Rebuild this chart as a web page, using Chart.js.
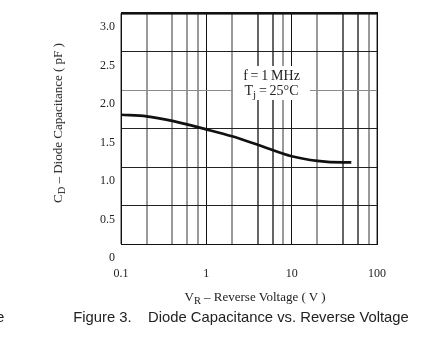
<!DOCTYPE html>
<html>
<head>
<meta charset="utf-8">
<script src="https://cdn.jsdelivr.net/npm/chart.js@4.4.1/dist/chart.umd.min.js"></script>
<style>
  html, body { margin: 0; padding: 0; background: #fff; }
  #wrap { position: relative; width: 446px; height: 358px; overflow: hidden; }
  #chart { position: absolute; left: 0; top: 0; }
  .serif { font-family: "Liberation Serif", "DejaVu Serif", serif; color: #222; position: absolute; white-space: nowrap; }
  .ytitle { left: 58px; top: 123px; font-size: 13px; transform: translate(-50%, -50%) rotate(-90deg); }
  .xtitle { left: 255px; top: 297px; font-size: 13px; transform: translate(-50%, -50%); }
  sub { font-size: 0.8em; vertical-align: -0.3em; line-height: 0; }
  .note { left: 233px; top: 66px; width: 77px; height: 34px; background: #fff; font-size: 14px; text-align: center; line-height: 15px; padding-top: 2px; box-sizing: border-box; }
  .caption { position: absolute; left: 241px; top: 317px; transform: translate(-50%, -50%); font-family: "Liberation Sans", Arial, sans-serif; font-size: 14.8px; color: #222; white-space: nowrap; }
  .stray { position: absolute; left: -4px; top: 308px; font-family: "Liberation Sans", Arial, sans-serif; font-size: 15px; color: #222; }
</style>
</head>
<body>
<div id="wrap">
  <canvas id="chart" width="446" height="358"></canvas>
  <div class="serif ytitle">C<sub>D</sub> – Diode Capacitance ( pF )</div>
  <div class="serif xtitle">V<sub>R</sub> – Reverse Voltage ( V )</div>
  <div class="serif note">f&thinsp;=&thinsp;1&thinsp;MHz<br>T<sub>j</sub>&thinsp;=&thinsp;25°C</div>
  <div class="caption">Figure 3.&nbsp;&nbsp;&nbsp; Diode Capacitance vs. Reverse Voltage</div>
  <div class="stray">e</div>
</div>
<script>
// reverse voltage (V) and diode capacitance (pF)
const voltage = [0.1, 0.2, 0.4, 1, 2, 4, 10, 20, 40, 50];
const capacitance = [1.86, 1.84, 1.78, 1.67, 1.58, 1.47, 1.32, 1.26, 1.24, 1.24];

// x grid lines (log paper) and the ones that get a label
const xGrid = [0.1, 0.2, 0.4, 0.6, 0.8, 1, 2, 4, 6, 8, 10, 20, 40, 60, 80, 100];
const xLabelValues = [0.1, 1, 10, 100];

// y labels; the printed grid sits a bit above the labelled values
const yTickLabels = ['0', '0.5', '1.0', '1.5', '2.0', '2.5', '3.0'];
const yGridBase = 0.18;
const yGridStep = 0.5;

const points = voltage.map((v, i) => ({ x: v, y: capacitance[i] }));

function xGridColor(v) {
    if (v === 1 || v === 10) return '#111';
    if (v === 4 || v === 6 || v === 40 || v === 60) return '#666';
    return '#9a9a9a';
}

const frame = {
    id: 'frame',
    afterDraw(chart) {
        const { ctx, chartArea: a } = chart;
        ctx.save();
        ctx.strokeStyle = '#111';
        ctx.lineWidth = 1;
        ctx.strokeRect(a.left + 0.5, a.top + 0.5, a.right - a.left, a.bottom - a.top);
        ctx.lineWidth = 2.5;
        ctx.beginPath();
        ctx.moveTo(a.left, a.top);
        ctx.lineTo(a.right + 1, a.top);
        ctx.stroke();
        ctx.restore();
    }
};

new Chart(document.getElementById('chart'), {
    type: 'line',
    data: {
        datasets: [{
            data: points,
            borderColor: '#111',
            borderWidth: 2.7,
            pointRadius: 0,
            cubicInterpolationMode: 'monotone',
            fill: false
        }]
    },
    options: {
        responsive: false,
        animation: false,
        devicePixelRatio: 1,
        layout: { padding: { top: 13, right: 69, bottom: 74, left: 0 } },
        plugins: { legend: { display: false }, tooltip: { enabled: false } },
        scales: {
            x: {
                type: 'logarithmic',
                min: 0.1,
                max: 100,
                afterBuildTicks: scale => {
                    scale.ticks = xGrid.map(v => ({ value: v }));
                },
                afterFit: scale => { scale.height = 40; },
                border: { display: false },
                grid: {
                    drawTicks: false,
                    color: ctx => xGridColor(ctx.tick.value),
                    lineWidth: ctx => (ctx.tick.value === 1 || ctx.tick.value === 10) ? 1 : 2
                },
                ticks: {
                    autoSkip: false,
                    maxRotation: 0,
                    padding: 23,
                    color: '#222',
                    font: { family: 'Liberation Serif', size: 12 },
                    callback: value => xLabelValues.includes(value) ? String(value) : ''
                }
            },
            y: {
                min: yGridBase,
                max: yGridBase + yGridStep * (yTickLabels.length - 1),
                afterBuildTicks: scale => {
                    scale.ticks = yTickLabels.map((t, i) => ({ value: yGridBase + yGridStep * i }));
                },
                afterFit: scale => { scale.width = 121; },
                border: { display: false },
                grid: {
                    drawTicks: false,
                    color: ctx => ctx.index === 4 ? '#8a8a8a' : '#222',
                    lineWidth: 1
                },
                ticks: {
                    padding: 6,
                    labelOffset: 14,
                    color: '#222',
                    font: { family: 'Liberation Serif', size: 12 },
                    callback: (value, index) => yTickLabels[index]
                }
            }
        }
    },
    plugins: [frame]
});
</script>
</body>
</html>
